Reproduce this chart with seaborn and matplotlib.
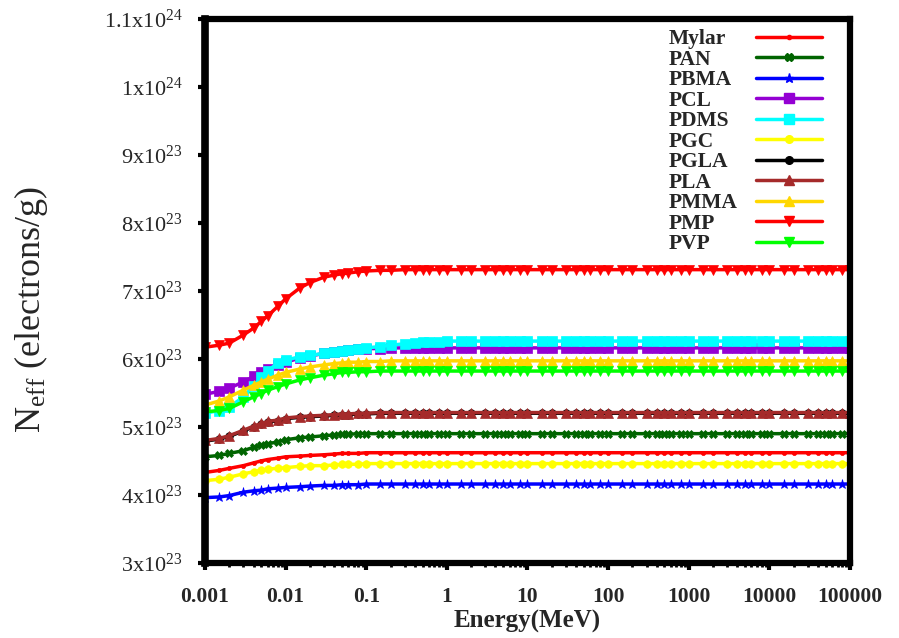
import matplotlib
matplotlib.use("Agg")
import matplotlib.pyplot as plt
import seaborn as sns
import pandas as pd
from matplotlib.ticker import FixedLocator, LogLocator, NullFormatter, FixedFormatter
from matplotlib.lines import Line2D

# ---------------- data (N_eff in units of 1e23 electrons/g) ----------------
energy = [0.001, 0.0015, 0.002, 0.003, 0.004, 0.005, 0.006, 0.008, 0.01, 0.015,
          0.02, 0.03, 0.04, 0.05, 0.06, 0.08, 0.1, 0.15, 0.2, 0.3,
          0.4, 0.5, 0.6, 0.8, 1,
          1.5, 2, 3, 4, 5, 6, 8, 10, 15, 20,
          30, 40, 50, 60, 80, 100, 150, 200, 300, 400,
          500, 600, 800, 1000, 1500, 2000, 3000, 4000, 5000, 6000,
          8000, 10000, 15000, 20000, 30000, 40000, 50000, 60000, 80000, 100000]

mylar = [4.33, 4.36, 4.39, 4.43, 4.47, 4.50, 4.52, 4.54, 4.56, 4.57,
         4.58, 4.59, 4.60, 4.61, 4.61, 4.61, 4.62, 4.62, 4.62, 4.62,
         4.62, 4.62, 4.62, 4.62, 4.62,
         4.62, 4.62, 4.62, 4.62, 4.62, 4.62, 4.62, 4.62, 4.62, 4.62,
         4.62, 4.62, 4.62, 4.62, 4.62, 4.62, 4.62, 4.62, 4.62, 4.62,
         4.62, 4.62, 4.62, 4.62, 4.62, 4.62, 4.62, 4.62, 4.62, 4.62,
         4.62, 4.62, 4.62, 4.62, 4.62, 4.62, 4.62, 4.62, 4.62, 4.62]

pan = [4.56, 4.58, 4.61, 4.65, 4.70, 4.73, 4.75, 4.78, 4.81, 4.84,
       4.85, 4.87, 4.88, 4.89, 4.89, 4.90, 4.90, 4.90, 4.90, 4.90,
       4.90, 4.90, 4.90, 4.90, 4.90,
       4.90, 4.90, 4.90, 4.90, 4.90, 4.90, 4.90, 4.90, 4.90, 4.90,
       4.90, 4.90, 4.90, 4.90, 4.90, 4.90, 4.90, 4.90, 4.90, 4.90,
       4.90, 4.90, 4.90, 4.90, 4.90, 4.90, 4.90, 4.90, 4.90, 4.90,
       4.90, 4.90, 4.90, 4.90, 4.90, 4.90, 4.90, 4.90, 4.90, 4.90]

pbma = [3.96, 3.97, 3.99, 4.04, 4.06, 4.07, 4.09, 4.10, 4.11, 4.12,
        4.13, 4.14, 4.14, 4.15, 4.15, 4.15, 4.16, 4.16, 4.16, 4.16,
        4.16, 4.16, 4.16, 4.16, 4.16,
        4.16, 4.16, 4.16, 4.16, 4.16, 4.16, 4.16, 4.16, 4.16, 4.16,
        4.16, 4.16, 4.16, 4.16, 4.16, 4.16, 4.16, 4.16, 4.16, 4.16,
        4.16, 4.16, 4.16, 4.16, 4.16, 4.16, 4.16, 4.16, 4.16, 4.16,
        4.16, 4.16, 4.16, 4.16, 4.16, 4.16, 4.16, 4.16, 4.16, 4.16]

pcl = [5.48, 5.52, 5.57, 5.66, 5.74, 5.81, 5.85, 5.91, 5.95, 6.01,
       6.04, 6.08, 6.10, 6.12, 6.13, 6.14, 6.15, 6.15, 6.16, 6.16,
       6.16, 6.16, 6.16, 6.16, 6.16,
       6.16, 6.16, 6.16, 6.16, 6.16, 6.16, 6.16, 6.16, 6.16, 6.16,
       6.16, 6.16, 6.16, 6.16, 6.16, 6.16, 6.16, 6.16, 6.16, 6.16,
       6.16, 6.16, 6.16, 6.16, 6.16, 6.16, 6.16, 6.16, 6.16, 6.16,
       6.16, 6.16, 6.16, 6.16, 6.16, 6.16, 6.16, 6.16, 6.16, 6.16]

pdms = [5.20, 5.24, 5.29, 5.44, 5.60, 5.73, 5.82, 5.94, 5.98, 6.03,
        6.05, 6.08, 6.10, 6.12, 6.13, 6.15, 6.16, 6.18, 6.20, 6.22,
        6.23, 6.24, 6.25, 6.25, 6.26,
        6.26, 6.26, 6.26, 6.26, 6.26, 6.26, 6.26, 6.26, 6.26, 6.26,
        6.26, 6.26, 6.26, 6.26, 6.26, 6.26, 6.26, 6.26, 6.26, 6.26,
        6.26, 6.26, 6.26, 6.26, 6.26, 6.26, 6.26, 6.26, 6.26, 6.26,
        6.26, 6.26, 6.26, 6.26, 6.26, 6.26, 6.26, 6.26, 6.26, 6.26]

pgc = [4.21, 4.23, 4.26, 4.31, 4.34, 4.36, 4.38, 4.39, 4.40, 4.42,
       4.43, 4.43, 4.44, 4.45, 4.45, 4.45, 4.46, 4.46, 4.46, 4.46,
       4.46, 4.46, 4.46, 4.46, 4.46,
       4.46, 4.46, 4.46, 4.46, 4.46, 4.46, 4.46, 4.46, 4.46, 4.46,
       4.46, 4.46, 4.46, 4.46, 4.46, 4.46, 4.46, 4.46, 4.46, 4.46,
       4.46, 4.46, 4.46, 4.46, 4.46, 4.46, 4.46, 4.46, 4.46, 4.46,
       4.46, 4.46, 4.46, 4.46, 4.46, 4.46, 4.46, 4.46, 4.46, 4.46]

pgla = [4.79, 4.82, 4.86, 4.94, 5.00, 5.04, 5.07, 5.09, 5.12, 5.14,
        5.15, 5.16, 5.17, 5.18, 5.18, 5.19, 5.19, 5.20, 5.20, 5.20,
        5.20, 5.20, 5.20, 5.20, 5.20,
        5.20, 5.20, 5.20, 5.20, 5.20, 5.20, 5.20, 5.20, 5.20, 5.20,
        5.20, 5.20, 5.20, 5.20, 5.20, 5.20, 5.20, 5.20, 5.20, 5.20,
        5.20, 5.20, 5.20, 5.20, 5.20, 5.20, 5.20, 5.20, 5.20, 5.20,
        5.20, 5.20, 5.20, 5.20, 5.20, 5.20, 5.20, 5.20, 5.20, 5.20]

pla = [4.80, 4.83, 4.87, 4.95, 5.01, 5.05, 5.08, 5.10, 5.13, 5.15,
       5.16, 5.17, 5.18, 5.19, 5.19, 5.20, 5.20, 5.21, 5.21, 5.21,
       5.21, 5.21, 5.21, 5.21, 5.21,
       5.21, 5.21, 5.21, 5.21, 5.21, 5.21, 5.21, 5.21, 5.21, 5.21,
       5.21, 5.21, 5.21, 5.21, 5.21, 5.21, 5.21, 5.21, 5.21, 5.21,
       5.21, 5.21, 5.21, 5.21, 5.21, 5.21, 5.21, 5.21, 5.21, 5.21,
       5.21, 5.21, 5.21, 5.21, 5.21, 5.21, 5.21, 5.21, 5.21, 5.21]

pmma = [5.32, 5.38, 5.44, 5.54, 5.61, 5.66, 5.70, 5.76, 5.80, 5.85,
        5.88, 5.91, 5.93, 5.94, 5.95, 5.95, 5.96, 5.96, 5.97, 5.97,
        5.97, 5.97, 5.97, 5.97, 5.97,
        5.97, 5.97, 5.97, 5.97, 5.97, 5.97, 5.97, 5.97, 5.97, 5.97,
        5.97, 5.97, 5.97, 5.97, 5.97, 5.97, 5.97, 5.97, 5.97, 5.97,
        5.97, 5.97, 5.97, 5.97, 5.97, 5.97, 5.97, 5.97, 5.97, 5.97,
        5.97, 5.97, 5.97, 5.97, 5.97, 5.97, 5.97, 5.97, 5.97, 5.97]

pmp = [6.17, 6.20, 6.23, 6.35, 6.45, 6.55, 6.63, 6.77, 6.88, 7.04,
       7.12, 7.20, 7.23, 7.25, 7.26, 7.28, 7.29, 7.30, 7.30, 7.31,
       7.31, 7.31, 7.31, 7.31, 7.31,
       7.31, 7.31, 7.31, 7.31, 7.31, 7.31, 7.31, 7.31, 7.31, 7.31,
       7.31, 7.31, 7.31, 7.31, 7.31, 7.31, 7.31, 7.31, 7.31, 7.31,
       7.31, 7.31, 7.31, 7.31, 7.31, 7.31, 7.31, 7.31, 7.31, 7.31,
       7.31, 7.31, 7.31, 7.31, 7.31, 7.31, 7.31, 7.31, 7.31, 7.31]

pvp = [5.22, 5.24, 5.27, 5.37, 5.44, 5.49, 5.54, 5.59, 5.63, 5.69,
       5.72, 5.76, 5.78, 5.80, 5.80, 5.81, 5.81, 5.82, 5.82, 5.82,
       5.82, 5.82, 5.82, 5.82, 5.82,
       5.82, 5.82, 5.82, 5.82, 5.82, 5.82, 5.82, 5.82, 5.82, 5.82,
       5.82, 5.82, 5.82, 5.82, 5.82, 5.82, 5.82, 5.82, 5.82, 5.82,
       5.82, 5.82, 5.82, 5.82, 5.82, 5.82, 5.82, 5.82, 5.82, 5.82,
       5.82, 5.82, 5.82, 5.82, 5.82, 5.82, 5.82, 5.82, 5.82, 5.82]

materials = ["Mylar", "PAN", "PBMA", "PCL", "PDMS", "PGC", "PGLA", "PLA", "PMMA", "PMP", "PVP"]
series = [mylar, pan, pbma, pcl, pdms, pgc, pgla, pla, pmma, pmp, pvp]

x_ticks = [0.001, 0.01, 0.1, 1, 10, 100, 1000, 10000, 100000]
x_tick_labels = ["0.001", "0.01", "0.1", "1", "10", "100", "1000", "10000", "100000"]
y_ticks = [3, 4, 5, 6, 7, 8, 9, 10, 11]
y_tick_labels = [r"3x10$^{23}$", r"4x10$^{23}$", r"5x10$^{23}$", r"6x10$^{23}$",
                 r"7x10$^{23}$", r"8x10$^{23}$", r"9x10$^{23}$", r"1x10$^{24}$",
                 r"1.1x10$^{24}$"]

# ---------------- styles ----------------
colors = {"Mylar": "#ff0000", "PAN": "#006400", "PBMA": "#0000ff", "PCL": "#9400d3",
          "PDMS": "#00ffff", "PGC": "#ffff00", "PGLA": "#000000", "PLA": "#a52a2a",
          "PMMA": "#ffd700", "PMP": "#ff0000", "PVP": "#00ff00"}
markers = {"Mylar": ".", "PAN": "X", "PBMA": "*", "PCL": "s", "PDMS": "s", "PGC": "o",
           "PGLA": "o", "PLA": "^", "PMMA": "^", "PMP": "v", "PVP": "v"}
msizes = {"Mylar": 6, "PAN": 5.5, "PBMA": 6.5, "PCL": 6.5, "PDMS": 6.5, "PGC": 5.5,
          "PGLA": 5.5, "PLA": 6.5, "PMMA": 6.5, "PMP": 7, "PVP": 7}

sns.set_theme(style="white")
plt.rcParams["font.family"] = ["Liberation Serif", "DejaVu Serif"]
plt.rcParams["mathtext.fontset"] = "custom"
plt.rcParams["mathtext.rm"] = "Liberation Serif"
plt.rcParams["mathtext.it"] = "Liberation Serif:italic"
plt.rcParams["mathtext.bf"] = "Liberation Serif:bold"

fig = plt.figure(figsize=(8.99, 6.38), dpi=100)
ax = fig.add_axes([0.228, 0.1176, 0.7175, 0.8534])

rows = []
for name, vals in zip(materials, series):
    for e, v in zip(energy, vals):
        rows.append({"Energy": e, "Neff": v * 1e23, "Material": name})
df = pd.DataFrame(rows)

for name in materials:
    sub = df[df["Material"] == name]
    sns.lineplot(data=sub, x="Energy", y="Neff", ax=ax, color=colors[name],
                 marker=markers[name], markersize=msizes[name], markeredgewidth=0.5,
                 markeredgecolor=colors[name], linewidth=2.5, label=name,
                 legend=False)

ax.set_xscale("log")
ax.set_xlim(0.001, 100000)
ax.set_ylim(3e23, 1.1e24)

ax.xaxis.set_major_locator(FixedLocator(x_ticks))
ax.xaxis.set_major_formatter(FixedFormatter(x_tick_labels))
ax.xaxis.set_minor_locator(LogLocator(base=10, subs=[2, 3, 4, 5, 6, 7, 8, 9], numticks=100))
ax.xaxis.set_minor_formatter(NullFormatter())
ax.yaxis.set_major_locator(FixedLocator([v * 1e23 for v in y_ticks]))
ax.yaxis.set_major_formatter(FixedFormatter(y_tick_labels))

for lab in ax.get_xticklabels():
    lab.set_fontweight("bold")
    lab.set_fontsize(15.5)
for lab in ax.get_yticklabels():
    lab.set_fontsize(16)

ax.tick_params(axis="both", which="major", direction="out", length=5, width=3,
               color="black", left=True, bottom=True)
ax.tick_params(axis="x", which="major", pad=12)
ax.tick_params(axis="y", which="major", pad=11)
ax.tick_params(axis="x", which="minor", direction="out", length=3, width=2,
               color="black", bottom=True)

for side, sp in ax.spines.items():
    sp.set_visible(True)
    sp.set_color("black")
    sp.set_linewidth(5.5 if side == "left" else 4.5)

ax.set_xlabel("Energy(MeV)", fontsize=18, fontweight="bold", va="baseline")
ax.xaxis.set_label_coords(0.5, -0.1194)
ax.set_ylabel(r"N$_{\mathrm{eff}}$ (electrons/g)", fontsize=26)
ax.yaxis.set_label_coords(-0.24, 0.465)

handles = [Line2D([0], [0], color=colors[n], marker=markers[n], markersize=msizes[n],
                  linewidth=2.5, markeredgecolor=colors[n]) for n in materials]
leg = ax.legend(handles, materials, loc="upper right", bbox_to_anchor=(0.957, 0.98),
                frameon=False, markerfirst=False,
                prop={"family": "Liberation Serif", "weight": "bold", "size": 15.5},
                handlelength=3.1, handletextpad=0.3, labelspacing=0.02,
                borderaxespad=0.0, borderpad=0.0, numpoints=1)

# left-align the legend labels (handles on the right), as in the original
try:
    for col in leg._legend_handle_box.get_children():
        col.align = "left"
        for row in col.get_children():
            row.mode = "expand"
            row.width = 154
except Exception:
    pass

fig.savefig("out.png", dpi=100, facecolor="white")
